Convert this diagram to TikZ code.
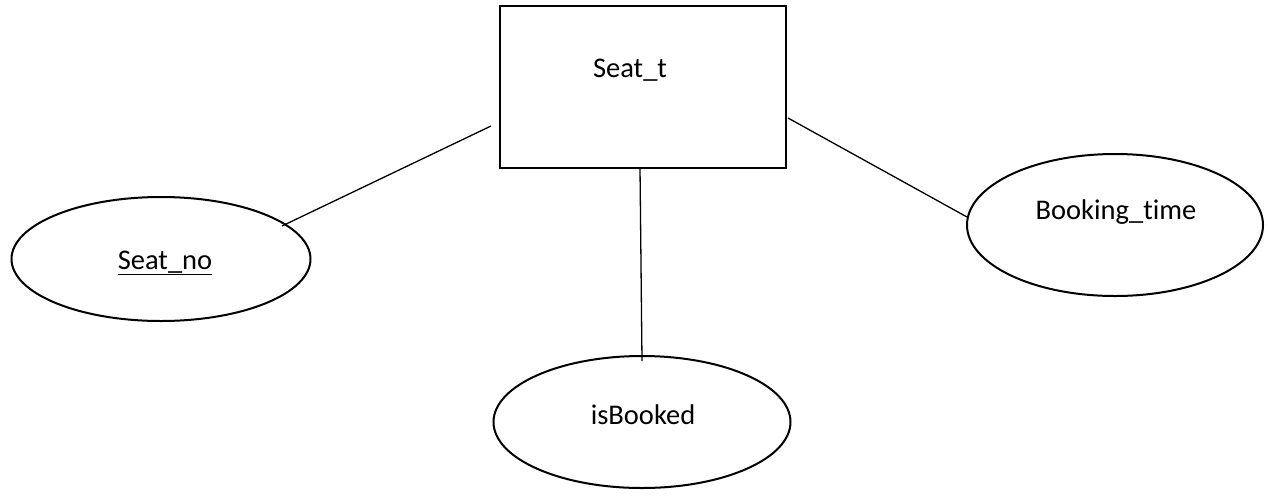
\documentclass[tikz,border=0pt]{standalone}
\usepackage{fontspec}
\setmainfont{Carlito}[Ligatures=NoCommon]
\usetikzlibrary{shapes.geometric}
\begin{document}
\begin{tikzpicture}[x=1pt,y=-1pt,
  every node/.style={font=\fontsize{28.5}{34}\selectfont},
  entity/.style={draw,line width=2.2pt,minimum width=286pt,minimum height=162pt,inner sep=0pt},
  attr/.style={draw,ellipse,line width=2pt,inner sep=0pt},
  link/.style={line width=1.3pt}]
\useasboundingbox (0,0) rectangle (1268,501);
\node[entity] (seat) at (643,87) {};
\node at (630,70) {Seat\_t};
\node[attr,minimum width=299pt,minimum height=124pt] (no) at (161,259) {};
\node at (165,263) {\underline{Seat\_no}};
\node[attr,minimum width=297pt,minimum height=132pt] (booked) at (642,422) {};
\node at (643,415) {isBooked};
\node[attr,minimum width=296pt,minimum height=142pt] (time) at (1115,225) {};
\node at (1116,212) {Booking\_time};
\coordinate (s1) at (491,126);
\coordinate (s2) at (640,168);
\coordinate (s3) at (788,118);
\coordinate (e1) at (282,226);
\coordinate (e2) at (642,361);
\coordinate (e3) at (967,217);
\draw[link] (s1) -- (e1);
\draw[link] (s2) -- (e2);
\draw[link] (s3) -- (e3);
\end{tikzpicture}
\end{document}
